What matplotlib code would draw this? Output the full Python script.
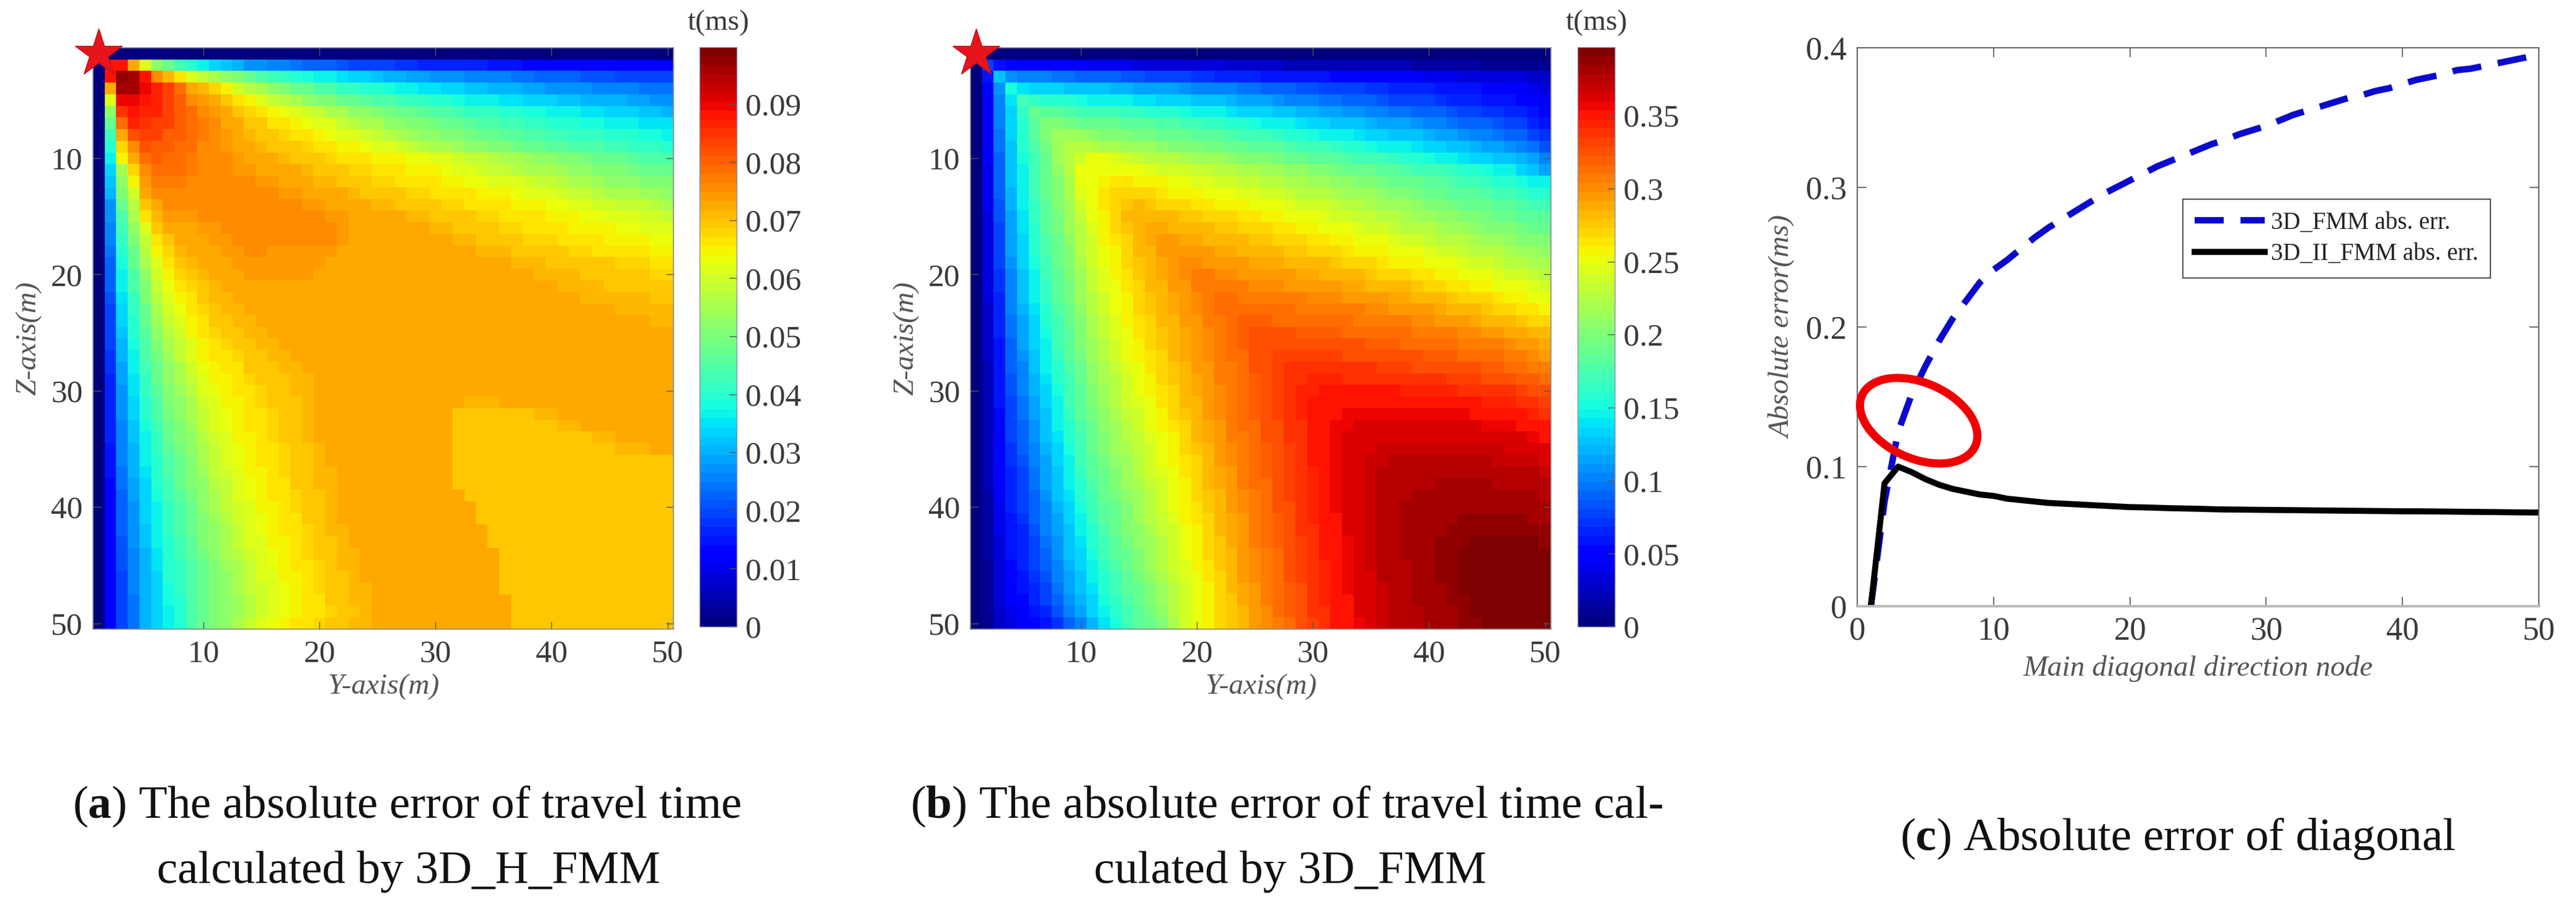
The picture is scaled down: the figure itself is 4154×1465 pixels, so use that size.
import numpy as np
import matplotlib
matplotlib.use('Agg')
import matplotlib.pyplot as plt
from matplotlib.patches import Ellipse
from matplotlib.ticker import FixedLocator

# heat map (a), in units of 0.001 ms
err_a_rows = [
[0]*50,
[0,88,88,73,62,52,47,43,40,37,34,32,30,28,27,26,25,24,23,22,22,21,20,20,19,19,18,18,17,17,17,16,16,16,15,15,15,14,14,14,14,13,13,13,13,12,12,12,12,12],
[0,88,98,96,88,76,71,66,62,58,55,52,50,47,45,43,41,40,38,37,36,35,34,33,32,31,30,29,29,28,27,27,26,26,25,25,24,24,23,23,22,22,21,21,21,20,20,20,19,19],
[0,73,96,96,90,87,83,78,73,71,68,64,60,57,55,52,50,48,47,45,44,42,41,40,39,38,37,36,35,35,34,33,32,32,31,30,30,29,29,28,28,27,27,26,26,25,25,24,24,24],
[0,62,90,90,88,86,84,80,76,74,72,70,67,65,62,59,57,55,53,51,50,48,47,46,45,44,43,42,41,40,39,38,37,37,36,35,35,34,33,33,32,32,31,31,30,30,29,29,28,28],
[0,52,85,88,87,86,84,81,79,76,74,72,70,68,67,65,63,61,60,58,56,55,53,52,50,49,48,47,46,45,44,43,42,41,41,40,39,38,38,37,36,36,35,35,34,33,33,32,32,31],
[0,47,78,87,85,84,83,81,79,77,75,73,72,70,69,67,66,65,63,62,61,59,57,56,55,53,52,51,50,49,48,47,46,45,44,43,43,42,41,40,40,39,38,38,37,37,36,35,35,35],
[0,43,72,82,84,83,81,80,78,77,75,74,73,71,70,69,68,67,66,65,63,62,61,60,58,57,55,54,53,52,51,50,49,48,47,46,46,45,44,43,43,42,41,41,40,39,39,38,38,37],
[0,40,68,76,82,81,80,79,78,76,75,74,73,72,71,70,69,69,68,67,66,65,64,63,62,61,60,58,57,56,55,54,53,52,51,50,49,48,47,46,46,45,44,44,43,43,42,41,41,40],
[0,37,65,72,79,80,79,78,77,76,75,75,74,73,72,72,71,70,69,69,68,67,66,66,65,64,64,63,63,62,61,60,59,58,57,56,55,54,53,52,51,50,49,48,47,47,46,45,45,44],
[0,34,55,68,76,78,78,78,77,76,75,75,74,74,73,73,72,72,71,70,69,69,68,68,67,66,66,65,65,64,63,62,61,60,59,58,57,56,55,55,54,53,52,51,50,50,49,48,48,47],
[0,32,52,64,74,77,77,77,76,76,75,75,75,75,74,74,73,73,72,71,71,70,69,69,68,68,67,67,66,66,65,64,63,63,62,62,61,60,59,58,57,56,55,54,53,53,52,51,51,50],
[0,30,50,60,72,75,76,76,76,75,75,75,75,75,75,75,74,74,73,73,72,72,71,70,70,69,69,68,68,67,67,66,66,65,65,64,63,62,62,61,60,59,58,57,56,56,55,54,54,53],
[0,28,47,57,69,73,75,75,75,75,75,75,75,75,75,75,75,75,74,74,73,73,72,72,71,71,70,70,69,69,68,68,67,67,66,66,65,65,64,63,63,62,61,60,60,59,58,58,57,56],
[0,27,45,55,66,71,74,74,74,75,75,75,75,75,75,75,75,75,75,75,74,74,73,73,72,72,72,71,71,70,70,69,69,68,68,67,67,66,66,65,65,64,63,63,62,62,61,60,60,59],
[0,26,43,52,62,69,72,73,73,74,74,75,75,75,75,75,75,75,75,75,75,74,73,73,73,73,72,72,72,71,71,70,70,69,69,68,68,67,67,66,66,65,65,64,64,63,63,62,62,62],
[0,25,41,50,59,67,70,72,72,73,74,74,75,75,75,75,75,75,75,75,75,74,73,73,73,73,73,72,72,72,72,71,71,70,70,69,69,68,68,68,67,67,66,66,65,65,64,64,63,63],
[0,24,40,48,57,65,68,71,72,73,73,74,74,75,75,74,74,74,74,74,74,73,73,73,73,73,73,73,73,72,72,72,72,71,71,71,70,70,70,69,69,68,68,67,67,67,66,66,65,65],
[0,23,38,47,55,62,67,70,71,72,73,73,74,74,74,74,74,74,74,74,73,73,73,73,73,73,73,73,73,73,73,73,72,72,72,72,71,71,71,70,70,70,69,69,69,68,68,68,67,67],
[0,22,37,45,53,60,65,68,70,71,72,73,73,74,74,74,74,74,74,73,73,73,73,73,73,73,73,73,73,73,73,73,73,72,72,72,72,72,71,71,71,71,70,70,70,69,69,69,68,68],
[0,22,36,44,51,58,63,66,68,70,71,72,73,73,73,73,73,73,73,73,73,72,72,72,72,72,72,72,72,72,72,72,72,72,72,72,72,72,72,72,71,71,71,71,70,70,70,70,69,69],
[0,21,35,42,50,57,62,65,67,69,71,71,72,72,73,73,73,73,73,73,73,72,72,72,72,72,72,72,72,72,72,72,72,72,72,72,72,72,72,72,72,72,71,71,71,71,71,71,70,70],
[0,20,34,41,48,55,60,63,66,68,70,71,71,72,72,73,73,73,73,73,73,72,72,72,72,72,72,72,72,72,72,72,72,72,72,72,72,72,72,72,72,72,72,72,72,71,71,71,71,71],
[0,20,33,40,47,54,59,62,65,67,69,70,71,71,72,72,73,73,73,73,73,72,72,72,72,72,72,72,72,72,72,72,72,72,72,72,72,72,72,72,72,72,72,72,72,72,72,72,71,71],
[0,19,32,39,46,52,57,60,64,66,68,69,70,71,71,72,72,73,73,73,73,72,72,72,72,72,72,72,72,72,72,72,72,72,72,72,72,72,72,72,72,72,72,72,72,72,72,72,72,72],
[0,19,31,38,45,50,56,59,62,65,67,68,69,70,71,71,72,72,73,73,73,72,72,72,72,72,72,72,72,72,72,72,72,72,72,72,72,72,72,72,72,72,72,72,72,72,72,72,72,72],
[0,18,30,37,44,49,54,58,61,64,66,67,68,69,70,71,71,72,72,73,73,72,72,72,72,72,72,72,72,72,72,72,72,72,72,72,72,72,72,72,72,72,72,72,72,72,72,72,72,72],
[0,18,29,36,43,48,53,56,60,63,65,66,67,69,70,70,71,71,72,73,73,72,72,72,72,72,72,72,72,72,72,72,72,72,72,72,72,72,72,72,72,72,72,72,72,72,72,72,72,72],
[0,17,29,35,42,47,52,55,58,62,64,65,67,68,69,70,70,71,71,72,73,72,72,72,72,72,72,72,72,72,72,72,72,72,72,72,72,72,72,72,72,72,72,72,72,72,72,72,72,72],
[0,17,28,35,41,46,51,54,57,61,63,65,66,67,68,69,70,71,71,72,73,72,72,72,72,72,72,72,72,72,72,72,72,72,72,72,72,72,72,72,72,72,72,72,72,72,72,72,72,72],
[0,17,27,34,40,45,50,53,56,60,62,64,65,67,68,69,69,70,71,72,73,72,72,72,72,72,72,72,72,72,72,72,71,71,71,72,72,72,72,72,72,72,72,72,72,72,72,72,72,72],
[0,16,27,33,39,44,49,52,55,59,62,63,65,66,67,68,69,70,71,72,73,72,72,72,72,72,72,72,72,72,72,70,70,70,70,70,70,70,71,71,72,72,72,72,72,72,72,72,72,72],
[0,16,26,32,38,43,48,51,54,58,61,63,64,66,67,68,69,70,71,72,73,72,72,72,72,72,72,72,72,72,72,70,70,70,70,70,70,70,70,70,71,71,72,72,72,72,72,72,72,72],
[0,16,26,32,37,42,47,50,53,57,60,62,64,65,67,68,69,70,71,72,72,72,72,72,72,72,72,72,72,72,72,70,70,70,70,70,70,70,70,70,70,70,70,71,71,72,72,72,72,72],
[0,15,25,31,36,41,46,49,52,56,59,62,63,65,66,67,68,69,70,71,72,72,72,72,72,72,72,72,72,72,72,70,70,70,70,70,70,70,70,70,70,70,70,70,70,71,71,71,72,72],
[0,15,25,30,36,40,45,48,51,55,58,61,63,64,66,67,68,69,70,71,72,72,72,72,72,72,72,72,72,72,72,70,70,70,70,70,70,70,70,70,70,70,70,70,70,70,70,70,70,70],
[0,15,24,30,35,40,44,48,51,54,58,60,62,64,65,67,68,69,70,71,71,72,72,72,72,72,72,72,72,72,72,70,70,70,70,70,70,70,70,70,70,70,70,70,70,70,70,70,70,70],
[0,14,24,29,34,39,43,47,50,53,57,59,62,63,65,66,67,69,70,71,71,72,72,72,72,72,72,72,72,72,72,70,70,70,70,70,70,70,70,70,70,70,70,70,70,70,70,70,70,70],
[0,14,23,29,34,38,43,46,49,53,56,59,61,63,64,66,67,68,69,70,71,72,72,72,72,72,72,72,72,72,72,72,70,70,70,70,70,70,70,70,70,70,70,70,70,70,70,70,70,70],
[0,14,23,28,33,37,42,45,48,52,55,58,60,62,64,65,67,68,69,70,71,72,72,72,72,72,72,72,72,72,72,72,72,70,70,70,70,70,70,70,70,70,70,70,70,70,70,70,70,70],
[0,14,22,28,33,37,41,45,47,51,54,57,60,62,63,65,66,67,69,70,71,72,72,72,72,72,72,72,72,72,72,72,72,70,70,70,70,70,70,70,70,70,70,70,70,70,70,70,70,70],
[0,13,22,27,32,36,41,44,47,50,53,56,59,62,63,64,66,67,68,70,71,71,72,72,72,72,72,72,72,72,72,72,72,72,70,70,70,70,70,70,70,70,70,70,70,70,70,70,70,70],
[0,13,21,27,32,36,40,43,46,50,53,56,58,61,62,64,65,67,68,69,70,71,72,72,72,72,72,72,72,72,72,72,72,72,70,70,70,70,70,70,70,70,70,70,70,70,70,70,70,70],
[0,13,21,26,31,35,40,43,46,49,52,55,57,60,62,63,65,66,68,69,70,71,71,72,72,72,72,72,72,72,72,72,72,72,72,70,70,70,70,70,70,70,70,70,70,70,70,70,70,70],
[0,13,21,26,31,35,39,42,45,48,51,54,56,59,62,63,64,66,67,68,70,71,71,72,72,72,72,72,72,72,72,72,72,72,72,70,70,70,70,70,70,70,70,70,70,70,70,70,70,70],
[0,12,20,25,30,34,39,41,45,48,51,53,55,58,61,62,64,65,67,68,69,70,71,72,72,72,72,72,72,72,72,72,72,72,72,70,70,70,70,70,70,70,70,70,70,70,70,70,70,70],
[0,12,20,25,30,34,38,41,44,47,50,53,55,58,60,62,63,65,66,68,69,70,71,71,72,72,72,72,72,72,72,72,72,72,72,70,70,70,70,70,70,70,70,70,70,70,70,70,70,70],
[0,12,20,24,30,33,38,40,44,47,50,52,54,57,60,62,63,64,66,67,69,70,71,71,72,72,72,72,72,72,72,72,72,72,72,72,70,70,70,70,70,70,70,70,70,70,70,70,70,70],
[0,12,19,24,30,33,37,40,44,47,50,52,54,57,60,62,63,64,66,67,68,69,70,71,72,72,72,72,72,72,72,72,72,72,72,72,70,70,70,70,70,70,70,70,70,70,70,70,70,70],
[0,12,19,24,30,33,37,40,44,47,50,52,55,58,61,63,65,66,67,68,69,70,71,71,72,72,72,72,72,72,72,72,72,72,72,72,70,70,70,70,70,70,70,70,70,70,70,70,70,70],
]

# heat map (b), in units of 0.004 ms
err_b_rows = [
[0]*50,
[0,19,14,13,12,12,11,11,11,11,10,10,10,10,9,9,9,9,8,8,8,8,7,7,7,7,7,6,6,6,6,6,5,5,5,5,5,5,4,4,4,4,4,4,3,3,3,3,3,3],
[0,14,31,27,26,26,25,24,24,23,23,22,22,21,21,20,20,19,19,18,18,17,17,16,16,15,15,15,14,14,14,13,13,12,12,12,11,11,11,10,10,10,9,9,9,8,8,8,7,7],
[0,13,27,38,35,34,33,33,32,32,31,31,30,30,29,29,28,28,27,26,26,25,25,24,24,23,22,22,21,21,20,20,19,19,18,18,17,17,16,16,15,15,14,14,13,13,12,11,10,9],
[0,12,26,35,43,41,40,39,39,38,37,37,36,36,35,35,34,33,33,32,31,31,30,29,29,28,27,26,26,25,24,24,23,22,22,21,20,20,19,19,18,17,17,16,15,15,14,13,12,11],
[0,12,26,34,41,47,46,45,44,43,43,42,42,41,41,40,39,39,38,37,37,36,35,34,34,33,32,31,30,30,29,28,27,27,26,25,24,24,23,22,22,21,20,19,18,18,17,16,14,13],
[0,11,25,33,40,46,51,50,49,48,48,47,47,46,45,45,44,44,43,42,41,41,40,39,38,37,37,36,35,34,33,32,32,31,30,29,28,28,27,26,25,24,23,22,22,21,20,19,17,15],
[0,11,24,33,39,45,50,54,53,53,52,51,51,50,49,49,48,48,47,46,45,45,44,43,42,42,41,40,39,38,37,36,36,35,34,33,32,31,31,30,29,28,27,26,25,24,23,22,20,18],
[0,11,24,32,39,44,49,53,57,57,56,55,55,54,53,53,52,51,51,50,49,49,48,47,46,46,45,44,43,42,42,41,40,39,38,37,37,36,35,34,33,32,31,30,29,28,27,26,24,21],
[0,11,23,32,38,43,48,53,57,60,62,62,61,60,58,57,57,56,55,54,54,53,52,51,50,50,49,48,47,46,46,45,44,43,42,42,41,40,39,38,37,36,35,34,33,32,31,30,28,25],
[0,10,23,31,37,43,48,52,56,62,62,63,62,62,62,61,60,60,59,58,58,57,56,55,55,54,53,52,52,51,50,49,48,47,47,46,45,44,43,42,42,41,40,39,38,37,36,34,32,29],
[0,10,22,31,37,42,47,51,55,62,63,65,66,66,65,64,64,63,62,61,61,60,59,58,58,57,56,55,55,54,53,52,52,51,50,49,48,48,47,46,45,44,43,42,41,40,39,38,37,36],
[0,10,22,30,36,42,47,51,55,61,62,66,67,68,68,67,66,65,65,64,63,63,62,61,61,60,59,58,57,57,56,55,54,53,53,52,51,50,49,48,47,46,46,45,44,43,42,41,40,39],
[0,10,21,30,36,41,46,50,54,60,62,66,68,69,70,69,68,68,67,66,66,65,65,64,63,63,62,61,60,59,59,58,57,56,55,54,53,53,52,51,50,49,48,47,47,46,45,44,43,42],
[0,9,21,29,35,41,45,49,53,58,62,65,68,70,71,71,71,70,69,69,68,68,67,66,66,65,64,63,63,62,61,60,59,58,58,57,56,55,54,53,52,52,51,50,49,48,47,46,46,45],
[0,9,20,29,35,40,45,49,53,57,61,64,67,69,71,72,72,71,71,70,70,69,69,68,68,67,66,66,65,64,63,63,62,61,60,59,58,57,57,56,55,54,53,52,51,51,50,49,48,47],
[0,9,20,28,34,39,44,48,52,57,60,64,66,68,71,72,73,73,72,72,71,71,70,70,69,69,68,68,67,66,66,65,64,63,62,62,61,60,59,58,57,56,56,55,54,53,52,51,51,50],
[0,9,19,28,33,39,44,48,51,56,60,63,65,68,70,71,73,74,74,73,73,72,72,71,71,70,70,69,69,68,68,67,66,65,65,64,63,62,62,61,60,59,58,57,56,56,55,54,53,52],
[0,8,19,27,33,38,43,47,51,55,59,62,65,67,69,71,72,74,75,75,74,74,73,73,72,72,72,71,71,70,70,69,68,67,67,66,65,65,64,63,62,62,61,60,59,58,57,56,55,55],
[0,8,18,26,32,37,42,46,50,54,58,61,64,66,69,70,72,73,75,76,76,75,75,74,74,74,73,73,72,72,71,71,70,70,69,68,68,67,66,66,65,64,63,62,62,61,60,59,58,57],
[0,8,18,26,31,37,41,45,49,54,58,61,63,66,68,70,71,73,74,76,77,77,76,76,75,75,75,74,74,74,73,73,72,72,71,71,70,70,69,68,67,66,66,65,64,63,62,62,61,60],
[0,8,17,25,31,36,41,45,49,53,57,60,63,65,68,69,71,72,74,75,77,78,78,77,77,77,76,76,76,75,75,75,74,74,73,73,72,72,71,70,70,69,68,67,67,66,65,64,63,62],
[0,7,17,25,30,35,40,44,48,52,56,59,62,65,67,69,70,72,73,75,76,78,79,79,78,78,78,78,77,77,77,76,76,76,75,75,74,74,73,73,72,71,71,70,69,68,67,66,66,65],
[0,7,16,24,29,34,39,43,47,51,55,58,61,64,66,68,70,71,73,74,76,77,79,80,80,80,79,79,79,79,78,78,78,77,77,77,76,76,75,75,74,74,73,72,71,71,70,69,68,67],
[0,7,16,24,29,34,38,42,46,50,55,58,61,63,66,68,69,71,72,74,75,77,78,80,82,81,81,81,80,80,80,80,79,79,79,78,78,78,77,77,76,76,75,75,74,73,72,72,71,70],
[0,7,15,23,28,33,37,42,46,50,54,57,60,63,65,67,69,70,72,74,75,77,78,80,81,82,82,82,82,82,81,81,81,81,80,80,80,79,79,79,78,78,77,77,76,76,75,74,73,72],
[0,7,15,22,27,32,37,41,45,49,53,56,59,62,64,66,68,70,72,73,75,76,78,79,81,82,83,83,83,83,83,83,82,82,82,82,81,81,81,80,80,80,79,79,78,78,77,76,75,74],
[0,6,15,22,26,31,36,40,44,48,52,55,58,61,63,66,68,69,71,73,74,76,77,79,81,82,83,84,84,84,84,84,84,84,84,83,83,83,82,82,82,81,81,81,80,80,79,78,77,76],
[0,6,14,21,26,30,35,39,43,47,52,55,57,60,63,65,67,69,71,72,74,76,77,79,80,82,83,84,85,86,86,86,85,85,85,85,85,85,84,84,84,83,83,83,82,82,81,80,80,79],
[0,6,14,21,25,30,34,38,42,46,51,54,57,59,62,64,66,68,70,72,74,75,77,79,80,82,83,84,86,86,87,87,87,87,87,87,87,86,86,86,86,86,85,85,84,84,84,83,82,81],
[0,6,14,20,24,29,33,37,42,46,50,53,56,59,61,63,66,68,70,71,73,75,77,78,80,81,83,84,86,87,87,88,88,88,88,88,88,88,88,88,87,87,87,87,86,86,86,85,84,83],
[0,6,13,20,24,28,32,36,41,45,49,52,55,58,60,63,65,67,69,71,73,75,76,78,80,81,83,84,86,87,88,88,89,89,89,89,89,89,89,89,89,89,89,88,88,88,87,87,86,85],
[0,5,13,19,23,27,32,36,40,44,48,52,54,57,59,62,64,66,68,70,72,74,76,78,79,81,82,84,85,87,88,89,89,90,90,90,90,90,90,90,90,90,90,90,89,89,89,88,88,87],
[0,5,12,19,22,27,31,35,39,43,47,51,53,56,58,61,63,65,67,70,72,74,76,77,79,81,82,84,85,87,88,89,90,90,91,91,91,91,91,91,91,91,91,91,91,91,90,90,89,88],
[0,5,12,18,22,26,30,34,38,42,47,50,53,55,58,60,62,65,67,69,71,73,75,77,79,80,82,83,85,87,88,89,90,91,91,92,92,92,92,92,92,92,92,92,92,92,91,91,90,90],
[0,5,12,18,21,25,29,33,37,42,46,49,52,54,57,59,62,64,66,68,71,73,75,77,78,80,82,83,85,87,88,89,90,91,92,92,93,93,93,93,93,93,93,93,93,92,92,92,92,91],
[0,5,11,17,20,24,28,32,37,41,45,48,51,53,56,59,61,63,66,68,70,72,74,76,78,80,81,83,85,86,88,89,90,91,92,93,93,93,94,94,94,94,94,94,94,93,93,93,93,92],
[0,5,11,17,20,24,28,31,36,40,44,47,50,53,55,58,60,63,65,67,70,72,74,76,78,79,81,83,85,86,88,89,90,91,92,93,93,94,94,94,95,95,95,95,95,94,94,94,94,93],
[0,4,11,16,19,23,27,31,35,39,43,47,49,52,54,57,60,62,65,67,69,71,73,75,77,79,81,83,84,86,87,89,90,91,92,93,94,94,95,95,95,95,95,96,96,95,95,95,95,94],
[0,4,10,16,19,22,26,30,34,38,42,46,48,51,54,56,59,62,64,66,69,71,73,75,77,79,81,82,84,86,87,89,90,91,92,93,94,95,95,95,96,96,96,96,96,96,96,96,96,95],
[0,4,10,15,18,22,25,29,33,37,41,45,48,50,53,56,58,61,64,66,68,70,72,74,76,78,80,82,84,86,87,88,90,91,92,93,94,95,95,96,96,96,97,97,97,97,97,97,96,96],
[0,4,10,15,17,21,25,28,32,36,40,44,47,50,52,55,58,60,63,65,68,70,72,74,76,78,80,82,84,85,87,88,90,91,92,93,94,95,95,96,96,97,97,97,97,97,97,97,97,97],
[0,4,9,14,17,20,24,27,31,35,39,43,46,49,52,54,57,60,62,65,67,69,72,74,76,78,80,82,83,85,87,88,89,91,92,93,94,95,95,96,97,97,97,98,98,98,98,98,98,97],
[0,4,9,14,16,19,23,27,31,34,38,42,45,48,51,54,56,59,62,64,67,69,71,73,75,77,79,81,83,85,87,88,89,90,92,93,94,95,95,96,97,97,98,98,98,98,98,98,98,98],
[0,3,9,13,16,19,22,26,30,33,37,41,44,47,50,53,56,59,61,64,66,69,71,73,75,77,79,81,83,85,86,88,89,90,92,93,94,94,95,96,97,97,98,98,98,99,99,99,99,98],
[0,3,8,13,15,18,21,25,29,32,36,40,43,46,49,52,55,58,61,63,66,68,70,73,75,77,79,81,83,85,86,88,89,90,91,93,94,94,95,96,97,97,98,98,99,99,99,99,99,99],
[0,3,8,12,14,17,20,24,28,31,35,39,42,45,48,51,54,57,60,63,65,68,70,72,74,76,78,80,82,84,86,87,89,90,91,92,93,94,95,96,96,97,98,98,99,99,99,99,99,99],
[0,3,8,11,13,16,19,23,27,30,34,38,41,44,47,50,53,57,60,62,65,67,69,72,74,76,78,80,82,84,86,87,88,90,91,92,93,94,95,95,96,97,97,98,98,99,99,99,99,99],
[0,3,7,10,12,15,17,21,25,29,33,37,40,43,46,49,52,56,59,62,64,67,69,71,73,75,78,80,82,84,85,87,88,90,91,92,93,94,94,95,96,96,97,98,98,98,99,99,99,99],
[0,3,7,9,11,13,15,18,22,26,30,35,38,42,45,48,51,55,59,62,65,67,69,71,73,75,77,79,81,83,85,87,88,89,91,92,93,93,94,95,95,96,97,97,98,98,98,99,99,99],
]

nodes = list(range(1, 51))
fmm_err = [0, .075, .125, .152, .172, .19, .206, .219, .232, .241, .248, .256, .264, .271, .277, .283, .289,
           .295, .300, .305, .310, .315, .319, .323, .327, .331, .334, .338, .341, .344, .348, .352, .355,
           .358, .361, .364, .366, .369, .371, .374, .377, .379, .381, .384, .385, .387, .389, .391, .393, .395]
h_fmm_err = [0, .088, .1, .096, .091, .087, .084, .082, .08, .079, .077, .076, .075, .074, .0735, .073, .0725,
             .072, .0715, .071, .0708, .0705, .0702, .07, .0698, .0695, .0693, .0692, .0691, .069, .0689, .0688,
             .0687, .0686, .0685, .0684, .0683, .0682, .0681, .068, .068, .0679, .0678, .0677, .0676, .0675,
             .0674, .0673, .0672, .0671]

ticks_a = [0, .01, .02, .03, .04, .05, .06, .07, .08, .09]
labels_a = ['0', '0.01', '0.02', '0.03', '0.04', '0.05', '0.06', '0.07', '0.08', '0.09']
ticks_b = [0, .05, .1, .15, .2, .25, .3, .35]
labels_b = ['0', '0.05', '0.1', '0.15', '0.2', '0.25', '0.3', '0.35']

plt.rcParams['font.family'] = ['Liberation Serif', 'DejaVu Serif']
plt.rcParams['mathtext.fontset'] = 'custom'
plt.rcParams['mathtext.rm'] = 'Liberation Serif'
plt.rcParams['mathtext.bf'] = 'Liberation Serif:bold'

W, H = 4154, 1465
GREY = '#3a3a3a'
fig = plt.figure(figsize=(W / 100, H / 100), dpi=100)


def box(x0, y0, x1, y1):
    # pixel box (from top left) to figure fractions
    return [x0 / W, 1 - y1 / H, (x1 - x0) / W, (y1 - y0) / H]


def heat_panel(rows, unit, vmax, x0, cb_x0, ticks, labels):
    ax = fig.add_axes(box(x0, 77, x0 + 936, 1014))
    grid = np.array(rows) * unit
    im = ax.imshow(grid, cmap=plt.get_cmap('jet', 64), vmin=0, vmax=vmax, aspect='auto',
                   extent=(0.5, 50.5, 50.5, 0.5), interpolation='nearest')
    ax.set_xticks([10, 20, 30, 40, 50])
    ax.set_yticks([10, 20, 30, 40, 50])
    ax.tick_params(direction='in', length=9, width=1, color='#555555', labelsize=37,
                   labelcolor=GREY, pad=12, top=True, right=True)
    for s in ax.spines.values():
        s.set_color('#8a8a8a')
        s.set_linewidth(1.2)
    ax.set_xlabel('Y-axis(m)', fontsize=34, style='italic', color='#555555', labelpad=6)
    ax.set_ylabel('Z-axis(m)', fontsize=34, style='italic', color='#555555', labelpad=10)
    ax.plot([1], [1], marker='*', ms=58, color='#e8141c', mec='#c01018', mew=1, clip_on=False, zorder=5)

    cax = fig.add_axes(box(cb_x0, 76, cb_x0 + 60, 1010))
    cb = fig.colorbar(im, cax=cax)
    cb.ax.yaxis.set_major_locator(FixedLocator(ticks))
    cb.ax.set_yticklabels(labels)
    cb.ax.tick_params(direction='in', length=9, width=1, color='#555555', labelsize=37, labelcolor=GREY, pad=10)
    cb.outline.set_edgecolor('#9090b0')
    cb.outline.set_linewidth(1)
    fig.text((cb_x0 + 30) / W, 1 - 37 / H, 't(ms)', fontsize=34, color=GREY, ha='center', va='center')


heat_panel(err_a_rows, 0.001, 0.0998, 150, 1128, ticks_a, labels_a)
heat_panel(err_b_rows, 0.004, 0.3968, 1565, 2544, ticks_b, labels_b)

ax3 = fig.add_axes(box(2995, 77, 4094, 977))
ax3.plot(nodes, fmm_err, color='#0a0acd', lw=7.5, ls=(0, (4.5, 2.6)), label='3D_FMM abs. err.')
ax3.plot(nodes, h_fmm_err, color='black', lw=7, label='3D_II_FMM abs. err.')
ax3.set_xlim(0, 50)
ax3.set_ylim(0, 0.4)
ax3.set_xticks([0, 10, 20, 30, 40, 50])
ax3.set_yticks([0, .1, .2, .3, .4])
ax3.set_yticklabels(['0', '0.1', '0.2', '0.3', '0.4'])
ax3.tick_params(direction='in', length=11, width=1.2, color='#555555', labelsize=38,
                labelcolor=GREY, pad=12, top=True, right=True)
for s in ax3.spines.values():
    s.set_color('#666666')
    s.set_linewidth(1.5)
ax3.spines['bottom'].set_color('#bbbbbb')
ax3.spines['bottom'].set_linewidth(3)
ax3.set_xlabel('Main diagonal direction node', fontsize=34, style='italic', color='#555555', labelpad=10)
ax3.set_ylabel('Absolute error(ms)', fontsize=34, style='italic', color='#555555', labelpad=12)
ax3.legend(loc='upper left', bbox_to_anchor=(0.46, 0.75), fontsize=28, fancybox=False, framealpha=1,
           edgecolor='#555555', handlelength=2.9, labelcolor='#222222', borderpad=0.5, labelspacing=0.35,
           handletextpad=0.25).get_frame().set_linewidth(1.5)

# red ring round the peak, placed in figure pixels
ring = Ellipse((3094 / W, 1 - 678 / H), 205 / W, 125 / H, angle=0, transform=fig.transFigure,
               fill=False, ec='#f00000', lw=9.5, zorder=10)
from matplotlib.transforms import Affine2D, IdentityTransform
ring = Ellipse((3094, H - 678), 200, 122, angle=-24, transform=IdentityTransform(),
               fill=False, ec='#f00000', lw=9.5, zorder=10)
fig.add_artist(ring)

cap = dict(fontsize=54, color='#111111', ha='center', va='center')
fig.text(656 / W, 1 - 1300 / H, r'($\mathbf{a}$) The absolute error of travel time', **cap)
fig.text(659 / W, 1 - 1405 / H, 'calculated by 3D_H_FMM', **cap)
fig.text(2075 / W, 1 - 1300 / H, r'($\mathbf{b}$) The absolute error of travel time cal-', **cap)
fig.text(2080 / W, 1 - 1405 / H, 'culated by 3D_FMM', **cap)
fig.text(3512 / W, 1 - 1352 / H, r'($\mathbf{c}$) Absolute error of diagonal', **cap)

fig.savefig('out.png', dpi=100)
